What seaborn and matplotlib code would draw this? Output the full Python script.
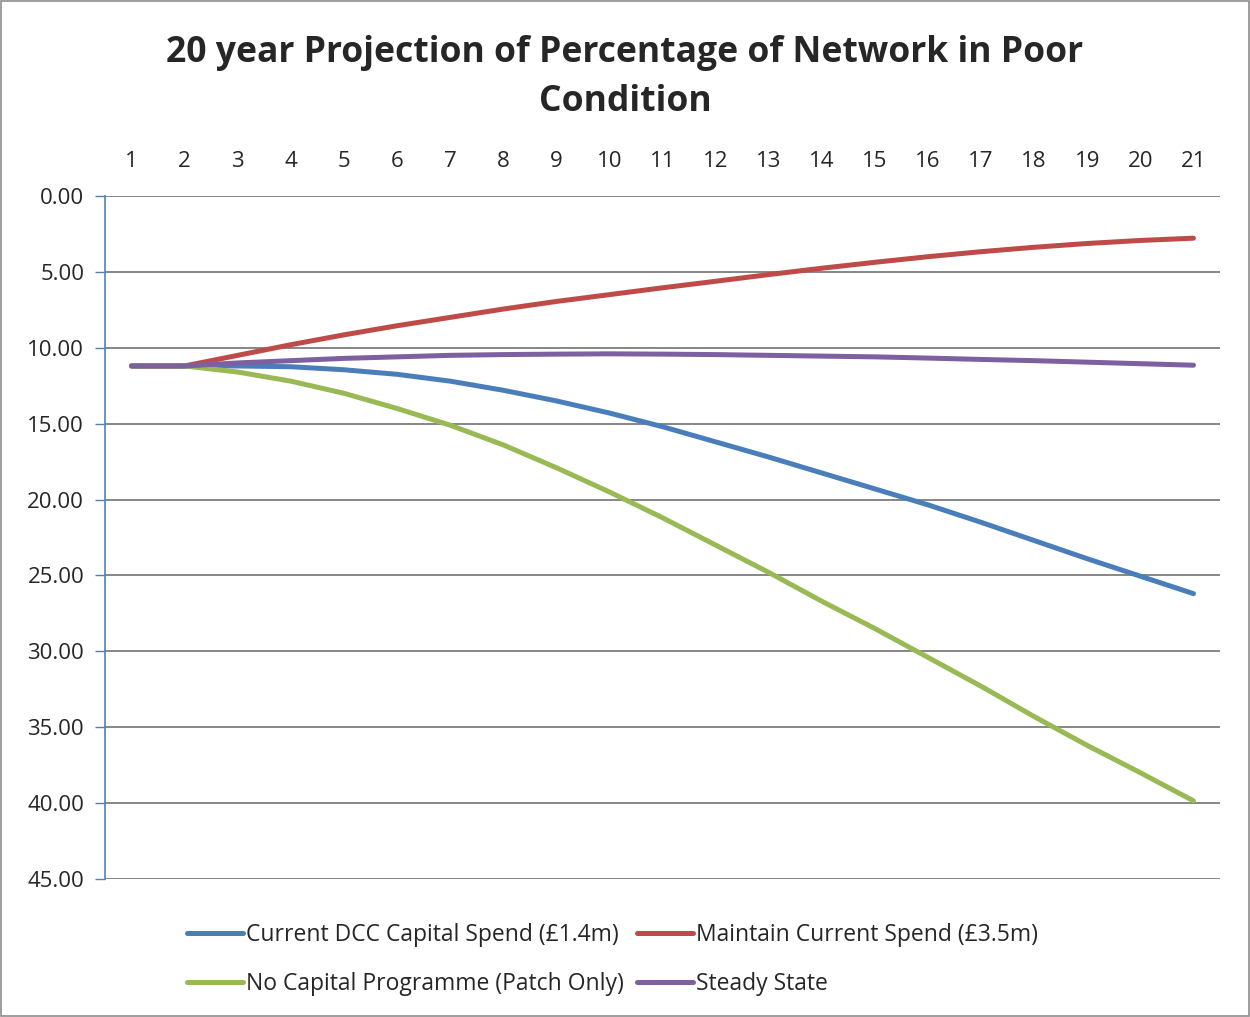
import matplotlib
matplotlib.use("Agg")
import matplotlib.pyplot as plt
import seaborn as sns
import pandas as pd
from matplotlib.patches import Rectangle

years = list(range(1, 22))
current_dcc = [11.2, 11.2, 11.2, 11.25, 11.45, 11.75, 12.2, 12.8, 13.5, 14.3, 15.2,
               16.2, 17.2, 18.25, 19.3, 20.35, 21.5, 22.7, 23.9, 25.05, 26.2]
maintain = [11.2, 11.2, 10.5, 9.8, 9.15, 8.55, 8.0, 7.45, 6.95, 6.5, 6.05,
            5.62, 5.18, 4.76, 4.37, 4.0, 3.67, 3.38, 3.13, 2.93, 2.78]
no_capital = [11.2, 11.2, 11.6, 12.2, 13.0, 14.0, 15.1, 16.4, 17.9, 19.5, 21.2,
              23.0, 24.8, 26.7, 28.5, 30.4, 32.3, 34.3, 36.2, 38.0, 39.85]
steady = [11.2, 11.2, 11.0, 10.85, 10.7, 10.6, 10.5, 10.45, 10.42, 10.4, 10.42,
          10.45, 10.5, 10.55, 10.6, 10.68, 10.77, 10.85, 10.95, 11.05, 11.15]

series_names = ["Current DCC Capital Spend (£1.4m)", "Maintain Current Spend (£3.5m)",
                "No Capital Programme (Patch Only)", "Steady State"]
series_vals = [current_dcc, maintain, no_capital, steady]
colors = ["#4A7EBB", "#BE4B48", "#98B954", "#7D60A0"]
y_ticks = [0, 5, 10, 15, 20, 25, 30, 35, 40, 45]

rows = []
for name, vals in zip(series_names, series_vals):
    for yr, v in zip(years, vals):
        rows.append({"year": yr, "value": v, "series": name})
df = pd.DataFrame(rows)

sns.set_theme(style="white")
plt.rcParams['font.family'] = ['Open Sans', 'DejaVu Sans']

fig = plt.figure(figsize=(12.5, 10.17), dpi=100)
ax = fig.add_axes([0.084, 0.1357, 0.892, 0.6716])

sns.lineplot(data=df, x="year", y="value", hue="series", hue_order=series_names,
             palette=colors, linewidth=3.6, ax=ax, legend=False,
             solid_capstyle="round", sort=False)

ax.set_xlim(0.5, 21.5)
ax.set_ylim(45, 0)
ax.set_yticks(y_ticks)
ax.set_yticklabels([f"{t:.2f}" for t in y_ticks], fontsize=16)
ax.set_xticks(years)
ax.set_xticklabels([str(y) for y in years], fontsize=16)
ax.xaxis.tick_top()
ax.tick_params(axis="x", length=0, pad=17)
ax.tick_params(axis="y", length=7, width=1, color="#4F81BD", direction="out", pad=8, left=True)
ax.set_xlabel("")
ax.set_ylabel("")
ax.yaxis.grid(True, color="#868686", linewidth=1.4)
ax.set_axisbelow(True)
for s in ["top", "right", "bottom"]:
    ax.spines[s].set_visible(False)
ax.spines["left"].set_color("#4F81BD")
ax.spines["left"].set_linewidth(1.2)

fig.suptitle("20 year Projection of Percentage of Network in Poor\nCondition",
             fontsize=25.6, fontweight="bold", y=0.966, linespacing=1.5)

order = [0, 2, 1, 3]
handles = [plt.Line2D([], [], color=colors[i], linewidth=3.6, solid_capstyle="round") for i in order]
labels = [series_names[i] for i in order]
fig.legend(handles, labels, loc="center", bbox_to_anchor=(0.49, 0.0565), ncol=2,
           frameon=False, fontsize=16.5, handlelength=2.45, handletextpad=0.12,
           columnspacing=0.6, labelspacing=1.08)

fig.patches.append(Rectangle((0.0008, 0.001), 0.9984, 0.998, transform=fig.transFigure,
                             fill=False, edgecolor="#8C8C8C", linewidth=1.2))

fig.savefig("out.png", dpi=100)
